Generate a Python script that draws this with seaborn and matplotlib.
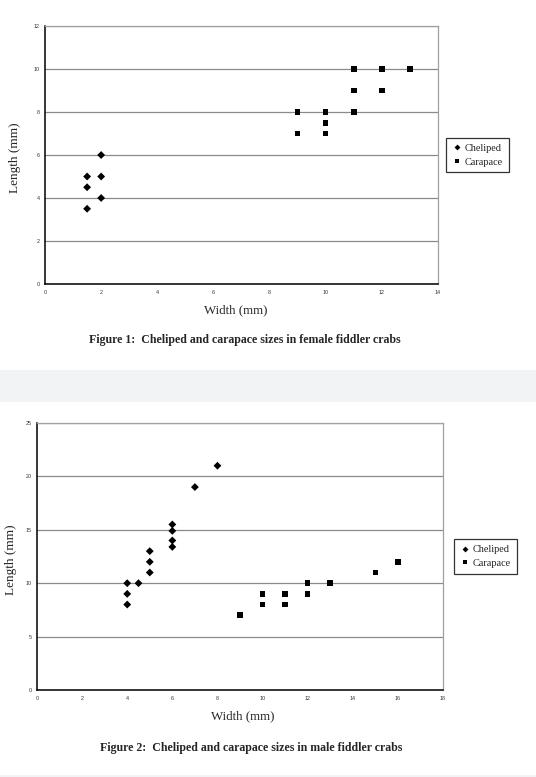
import pandas as pd
import matplotlib
matplotlib.use("Agg")
import matplotlib.pyplot as plt
from matplotlib.patches import Rectangle
import seaborn as sns

# female crabs (figure 1)
female_cheliped_w = [1.5, 1.5, 1.5, 2, 2, 2]
female_cheliped_l = [5, 4.5, 3.5, 6, 5, 4]
female_carapace_w = [9, 9, 10, 10, 10, 11, 11, 11, 12, 12, 13]
female_carapace_l = [8, 7, 8, 7.5, 7, 10, 9, 8, 10, 9, 10]

# male crabs (figure 2)
male_cheliped_w = [4, 4, 4, 4.5, 5, 5, 5, 6, 6, 6, 6, 7, 8]
male_cheliped_l = [10, 9, 8, 10, 13, 12, 11, 15.5, 14.9, 14, 13.4, 19, 21]
male_carapace_w = [9, 10, 10, 11, 11, 12, 12, 13, 15, 16]
male_carapace_l = [7, 9, 8, 9, 8, 10, 9, 10, 11, 12]

parts = ["Cheliped", "Carapace"]

captions = ["Figure 1:  Cheliped and carapace sizes in female fiddler crabs",
            "Figure 2:  Cheliped and carapace sizes in male fiddler crabs"]

SERIF = "Liberation Serif"
SANS = "Liberation Sans"


def make_df(chel_w, chel_l, cara_w, cara_l):
    df = pd.DataFrame({
        "Width": chel_w + cara_w,
        "Length": chel_l + cara_l,
        "Part": [parts[0]] * len(chel_w) + [parts[1]] * len(cara_w),
    })
    return df


def draw_panel(fig, rect, df, xmax, ymax, xstep, ystep, xlab_pos, ylab_pos, legend_pos):
    ax = fig.add_axes(rect)
    sns.scatterplot(data=df, x="Width", y="Length", hue="Part", style="Part",
                    markers={"Cheliped": "D", "Carapace": "s"},
                    palette={"Cheliped": "black", "Carapace": "black"},
                    s=16, linewidth=0, ax=ax, zorder=3)
    ax.set_xlim(0, xmax)
    ax.set_ylim(0, ymax)
    ax.set_xticks(range(0, xmax + 1, xstep))
    ax.set_yticks(range(0, ymax + 1, ystep))
    ax.tick_params(axis="both", labelsize=3.9, length=1.5, width=0.8,
                   colors="black", labelcolor="#333333", pad=2.5)
    for lab in ax.get_xticklabels() + ax.get_yticklabels():
        lab.set_fontfamily(SANS)
    ax.yaxis.grid(True, color="#8a8a8a", linewidth=0.9)
    ax.xaxis.grid(False)
    ax.set_axisbelow(True)
    for side in ["left", "bottom"]:
        ax.spines[side].set_color("black")
        ax.spines[side].set_linewidth(1.1)
    for side in ["top", "right"]:
        ax.spines[side].set_color("#a0a0a0")
        ax.spines[side].set_linewidth(0.9)

    ax.set_xlabel("Width (mm)", fontsize=9.3, fontfamily=SERIF)
    ax.set_ylabel("Length (mm)", fontsize=9.5, fontfamily=SERIF)
    ax.xaxis.set_label_coords(*xlab_pos)
    ax.yaxis.set_label_coords(*ylab_pos)

    handles, labels = ax.get_legend_handles_labels()
    leg = ax.legend(handles, labels, loc="center", bbox_to_anchor=legend_pos,
                    bbox_transform=fig.transFigure, frameon=True, fancybox=False,
                    edgecolor="black", prop={"family": SERIF, "size": 7.4},
                    handletextpad=0.25, handlelength=1.0, borderpad=0.55,
                    labelspacing=0.45, markerscale=0.75)
    leg.get_frame().set_linewidth(0.9)
    return ax


sns.set_style("white")
fig = plt.figure(figsize=(5.36, 7.77), dpi=100)
fig.patch.set_facecolor("white")

# grey separator band between the two figures
fig.patches.append(Rectangle((0, 1 - 402 / 777), 1, 32 / 777, transform=fig.transFigure,
                             facecolor="#f2f3f5", edgecolor="none", zorder=0))
fig.patches.append(Rectangle((0, 0), 1, 2 / 777, transform=fig.transFigure,
                             facecolor="#f2f3f5", edgecolor="none", zorder=0))

female_df = make_df(female_cheliped_w, female_cheliped_l, female_carapace_w, female_carapace_l)
male_df = make_df(male_cheliped_w, male_cheliped_l, male_carapace_w, male_carapace_l)

draw_panel(fig, [45 / 536, 1 - 284 / 777, 393 / 536, 258 / 777], female_df,
           14, 12, 2, 2, (0.486, -0.078), (-0.06, 0.49), (477.5 / 536, 1 - 155 / 777))
draw_panel(fig, [37 / 536, 1 - 690 / 777, 406 / 536, 267 / 777], male_df,
           18, 25, 2, 5, (0.507, -0.076), (-0.05, 0.487), (485.5 / 536, 1 - 556.5 / 777))

fig.text(244.5 / 536, 1 - 340 / 777, captions[0], ha="center", va="center",
         fontsize=8.6, fontweight="bold", fontfamily=SERIF)
fig.text(250.7 / 536, 1 - 748 / 777, captions[1], ha="center", va="center",
         fontsize=8.6, fontweight="bold", fontfamily=SERIF)

fig.savefig("out.png", dpi=100)
